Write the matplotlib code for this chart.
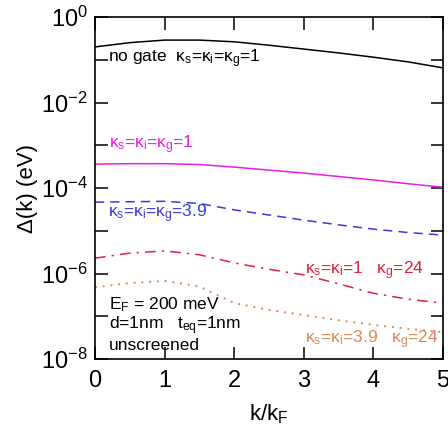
import numpy as np
import matplotlib
matplotlib.use("Agg")
import matplotlib.pyplot as plt
from matplotlib.ticker import FixedLocator, NullFormatter

plt.rcParams['font.family'] = ['Liberation Sans', 'DejaVu Sans']
plt.rcParams['mathtext.fontset'] = 'custom'
plt.rcParams['mathtext.rm'] = 'Liberation Sans'
plt.rcParams['mathtext.it'] = 'Liberation Sans'

# k/kF sample points and log10 of Delta(k) in eV
k = [0, 0.5, 1, 1.5, 2, 2.5, 3, 3.5, 4, 4.5, 5]
no_gate = [-0.70, -0.60, -0.54, -0.54, -0.58, -0.66, -0.75, -0.84, -0.94, -1.05, -1.19]
k1 = [-3.44, -3.43, -3.43, -3.45, -3.51, -3.58, -3.65, -3.73, -3.81, -3.90, -3.98]
k39 = [-4.33, -4.32, -4.31, -4.36, -4.51, -4.63, -4.75, -4.86, -4.96, -5.04, -5.10]
g24_k1 = [-5.64, -5.52, -5.47, -5.56, -5.75, -5.90, -6.03, -6.24, -6.46, -6.60, -6.69]
g24_k39 = [-6.32, -6.22, -6.17, -6.30, -6.69, -6.85, -6.97, -7.09, -7.20, -7.29, -7.37]

fig = plt.figure(figsize=(4.48, 4.25), dpi=100)
ax = fig.add_axes([0.212, 0.155, 0.777, 0.805])

magenta = '#e81ee8'
blue = '#3a3ad8'
red = '#e0203c'
orange = '#d98a5a'

ax.plot(k, 10**np.array(no_gate), '-', color='black', lw=1.1)
ax.plot(k, 10**np.array(k1), '-', color=magenta, lw=1.1)
ax.plot(k, 10**np.array(k39), '--', color=blue, lw=1.1, dashes=(6, 4))
ax.plot(k, 10**np.array(g24_k1), '-.', color=red, lw=1.1, dashes=(7, 4, 1.5, 4))
ax.plot(k, 10**np.array(g24_k39), ':', color=orange, lw=1.4, dashes=(1, 3))

ax.set_yscale('log')
ax.set_xlim(0, 5)
ax.set_ylim(1e-8, 1)
ax.yaxis.set_major_locator(FixedLocator([1e-8, 1e-6, 1e-4, 1e-2, 1]))
ax.yaxis.set_minor_locator(FixedLocator([1e-7, 1e-5, 1e-3, 1e-1]))
ax.yaxis.set_minor_formatter(NullFormatter())
ax.set_yticklabels(['$10^{-8}$', '$10^{-6}$', '$10^{-4}$', '$10^{-2}$', '$10^{0}$'])
ax.set_xticks([0, 1, 2, 3, 4, 5])
ax.tick_params(which='both', direction='in', top=True, right=True, labelsize=17)
ax.tick_params(which='major', length=9, width=1.1, pad=5)
ax.tick_params(axis='x', which='major', pad=8)
ax.tick_params(which='minor', length=9, width=1.1)
for s in ax.spines.values():
    s.set_linewidth(1.2)

ax.set_xlabel('k/k$_\\mathregular{F}$', fontsize=16, labelpad=7)
ax.set_ylabel('Δ(k) (eV)', fontsize=16, labelpad=2)

fs = 12.5
ax.text(0.18, 10**-0.98, 'no gate  κ$_\\mathregular{s}$=κ$_\\mathregular{i}$=κ$_\\mathregular{g}$=1',
        fontsize=fs, color='black', va='center')
ax.text(0.2, 10**-2.98, 'κ$_\\mathregular{s}$=κ$_\\mathregular{i}$=κ$_\\mathregular{g}$=1',
        fontsize=fs, color=magenta, va='center')
ax.text(0.18, 10**-4.6, 'κ$_\\mathregular{s}$=κ$_\\mathregular{i}$=κ$_\\mathregular{g}$=3.9',
        fontsize=fs, color=blue, va='center')
ax.text(3.02, 10**-5.94, 'κ$_\\mathregular{s}$=κ$_\\mathregular{i}$=1   κ$_\\mathregular{g}$=24',
        fontsize=fs, color=red, va='center')
ax.text(3.02, 10**-7.55, 'κ$_\\mathregular{s}$=κ$_\\mathregular{i}$=3.9   κ$_\\mathregular{g}$=24',
        fontsize=fs, color=orange, va='center')
ax.text(0.2, 10**-6.5, 'E$_\\mathregular{F}$ = 200 meV\nd=1nm   t$_\\mathregular{eq}$=1nm\nunscreened',
        fontsize=fs, color='black', va='top', linespacing=1.05)

fig.savefig('out.png', dpi=100)
